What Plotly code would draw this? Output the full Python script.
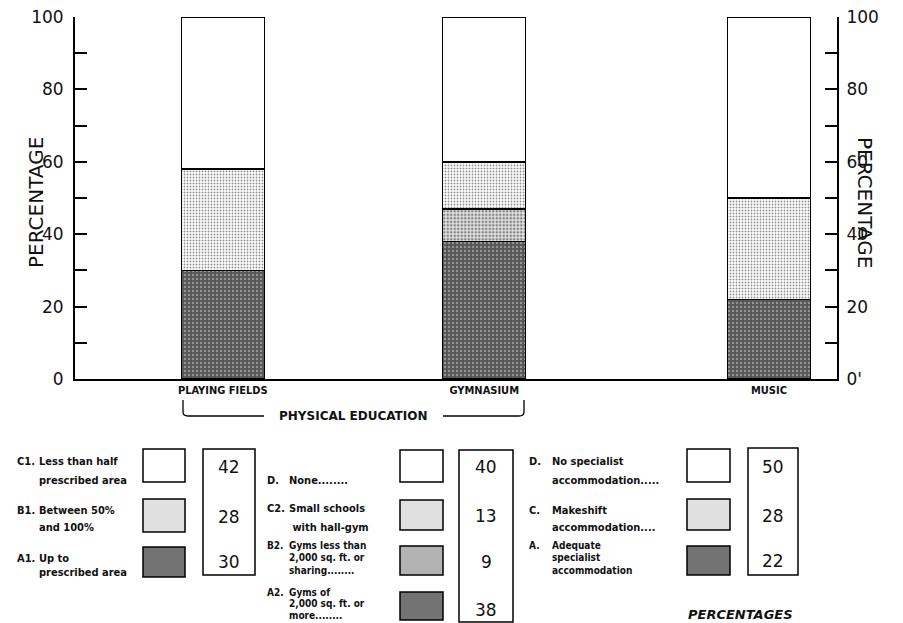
import plotly.graph_objects as go

# ---------------- data ----------------
categories = ["PLAYING FIELDS", "GYMNASIUM", "MUSIC"]
adequate = [30, 38, 22]          # A1 / A2 / A  (bottom, dark)
partial = [None, 9, None]        # B2 (gym only, medium)
makeshift = [28, 13, 28]         # B1 / C2 / C  (light stipple)
no_provision = [42, 40, 50]      # C1 / D / D   (white)

left_ticks = [0, 20, 40, 60, 80, 100]
left_ticktext = ["0", "20", "40", "60", "80", "100"]
right_ticktext = ["0'", "20", "40", "60", "80", "100"]
minor_ticks = [10, 30, 50, 70, 90]

group1_labels = [("C1.", ["Less than half", "prescribed area"]),
                 ("B1.", ["Between 50%", "and 100%"]),
                 ("A1.", ["Up to", "prescribed area"])]
group1_values = [42, 28, 30]
group2_labels = [("D.", ["None........"]),
                 ("C2.", ["Small schools", " with hall-gym"]),
                 ("B2.", ["Gyms less than", "2,000 sq. ft. or", "sharing........"]),
                 ("A2.", ["Gyms of", "2,000 sq. ft. or", "more........"])]
group2_values = [40, 13, 9, 38]
group3_labels = [("D.", ["No specialist", "accommodation....."]),
                 ("C.", ["Makeshift", "accommodation...."]),
                 ("A.", ["Adequate", "specialist", "accommodation"])]
group3_values = [50, 28, 22]

# ---------------- layout constants ----------------
W, H = 903, 623
L, R, T, B = 75, 837, 17, 379
bar_pos = [1.78, 4.93, 8.36]
x_range = [0, 9.18]
FONT = "DejaVu Sans Condensed, Liberation Sans Narrow, Liberation Sans, Arial"
WIDE = "DejaVu Sans, Liberation Sans, Arial"


def px(x):
    return (x - L) / (R - L)


def py(y):
    return (B - y) / (B - T)


line = dict(color="black", width=1.5)

fig = go.Figure()
fig.add_trace(go.Bar(x=bar_pos, y=adequate, width=1, name="A",
                     marker=dict(color="#6a6a6a", line=line,
                                 pattern=dict(shape=".", bgcolor="#555555", fgcolor="#cfcfcf",
                                              size=4, solidity=0.3))))
fig.add_trace(go.Bar(x=bar_pos, y=partial, width=1, name="B2",
                     marker=dict(color="#cccccc", line=line,
                                 pattern=dict(shape=".", bgcolor="#e4e4e4", fgcolor="#222222",
                                              size=3.5, solidity=0.45))))
fig.add_trace(go.Bar(x=bar_pos, y=makeshift, width=1, name="C",
                     marker=dict(color="#eeeeee", line=line,
                                 pattern=dict(shape=".", bgcolor="#ffffff", fgcolor="#222222",
                                              size=3, solidity=0.3))))
fig.add_trace(go.Bar(x=bar_pos, y=no_provision, width=1, name="D",
                     marker=dict(color="#ffffff", line=line)))
# empty trace so that the right-hand axis is drawn
fig.add_trace(go.Scatter(x=[], y=[], yaxis="y2", showlegend=False, hoverinfo="skip"))

axis_common = dict(range=[0, 100], tickvals=left_ticks,
                   showline=True, linecolor="black", linewidth=2,
                   ticks="inside", ticklen=12, tickwidth=2, tickcolor="black",
                   minor=dict(tickvals=minor_ticks, ticks="inside", ticklen=12,
                              tickwidth=2, tickcolor="black"),
                   showgrid=False, zeroline=False, automargin=False,
                   tickfont=dict(size=17, family=WIDE, color="#111111"))

fig.update_layout(
    width=W, height=H, barmode="stack", showlegend=False,
    plot_bgcolor="white", paper_bgcolor="white",
    margin=dict(l=L, r=W - R, t=T, b=H - B, pad=0, autoexpand=False),
    font=dict(family=FONT, color="#111111"),
    xaxis=dict(range=x_range, tickvals=bar_pos, ticktext=categories,
               showline=True, linecolor="black", linewidth=2, ticks="",
               showgrid=False, zeroline=False, automargin=False,
               tickfont=dict(size=11, family=FONT, weight="bold")),
    yaxis=dict(ticktext=left_ticktext, ticklabelstandoff=6, **axis_common),
    yaxis2=dict(ticktext=right_ticktext, overlaying="y", side="right",
                ticklabelstandoff=4, **axis_common),
)

ann = []
shapes = []


def text(x, y, s, size=11, xanchor="left", family=FONT, **kw):
    ann.append(dict(x=px(x), y=py(y), xref="paper", yref="paper", text=s,
                    showarrow=False, xanchor=xanchor, yanchor="middle",
                    font=dict(size=size, family=family, **kw)))


def rect(x0, y0, x1, y1, fill="rgba(0,0,0,0)", width=1.5):
    shapes.append(dict(type="rect", xref="paper", yref="paper",
                       x0=px(x0), x1=px(x1), y0=py(y0), y1=py(y1),
                       line=dict(color="black", width=width), fillcolor=fill))


# axis titles
ann.append(dict(x=px(22), y=py(203), xref="paper", yref="paper", text="PERCENTAGE",
                showarrow=False, textangle=-90, font=dict(size=20, family=WIDE)))
ann.append(dict(x=px(879), y=py(203), xref="paper", yref="paper", text="PERCENTAGE",
                showarrow=False, textangle=90, font=dict(size=20, family=WIDE)))

# bracket under physical education
p = lambda x, y: f"{px(x):.5f},{py(y):.5f}"
shapes.append(dict(type="path", xref="paper", yref="paper",
                   path=f"M {p(183,400)} L {p(183,412)} Q {p(183,416)} {p(188,416)} L {p(264,416)}",
                   line=dict(color="black", width=1.3)))
shapes.append(dict(type="path", xref="paper", yref="paper",
                   path=f"M {p(443,416)} L {p(519,416)} Q {p(524,416)} {p(524,412)} L {p(524,400)}",
                   line=dict(color="black", width=1.3)))
text(353, 416, "PHYSICAL EDUCATION", size=12, xanchor="center", family=WIDE, weight="bold")

swatch_fill = {"D": "#ffffff", "C": "#e0e0e0", "B2": "#b3b3b3", "A": "#737373"}

# group 1
g1_rows = [(462, 480), (510, 527), (558, 572)]
g1_sw = [(449, 482), (499, 532), (547, 577)]
g1_fill = ["D", "C", "A"]
for (pre, lines), ys, sw, f in zip(group1_labels, g1_rows, g1_sw, g1_fill):
    text(15, ys[0], pre, size=11, weight="bold")
    for ln, yy in zip(lines, ys):
        text(37, yy, ln, size=11, weight="bold")
    rect(143, sw[0], 185, sw[1], fill=swatch_fill[f])
rect(203, 449, 255, 575)
for v, yy in zip(group1_values, [467, 517, 562]):
    text(229, yy, str(v), size=17, xanchor="center", family=WIDE)

# group 2
g2_rows = [(480,), (508, 527), (545, 557, 570), (592, 603, 615)]
g2_sw = [(450, 482), (500, 530), (546, 575), (592, 620)]
g2_fill = ["D", "C", "B2", "A"]
for (pre, lines), ys, sw, f in zip(group2_labels, g2_rows, g2_sw, g2_fill):
    sz = 11 if len(lines) < 3 else 10
    text(265, ys[0], pre, size=sz, weight="bold")
    for ln, yy in zip(lines, ys):
        text(287, yy, ln, size=sz, weight="bold")
    rect(400, sw[0], 443, sw[1], fill=swatch_fill[f])
rect(459, 450, 513, 622)
for v, yy in zip(group2_values, [467, 516, 562, 610]):
    text(486, yy, str(v), size=17, xanchor="center", family=WIDE)

# group 3
g3_rows = [(462, 480), (510, 527), (545, 557, 570)]
g3_sw = [(449, 482), (499, 530), (546, 575)]
g3_fill = ["D", "C", "A"]
for (pre, lines), ys, sw, f in zip(group3_labels, g3_rows, g3_sw, g3_fill):
    sz = 11 if len(lines) < 3 else 10
    text(527, ys[0], pre, size=sz, weight="bold")
    for ln, yy in zip(lines, ys):
        text(550, yy, ln, size=sz, weight="bold")
    rect(687, sw[0], 730, sw[1], fill=swatch_fill[f])
rect(748, 448, 798, 575)
for v, yy in zip(group3_values, [467, 516, 561]):
    text(773, yy, str(v), size=17, xanchor="center", family=WIDE)

text(740, 614, "PERCENTAGES", size=13, xanchor="center", style="italic",
     family=WIDE, weight="bold")

fig.update_layout(annotations=ann, shapes=shapes)
fig.write_html("out.html", config={"displayModeBar": False},
               post_script="document.body.style.margin='0';document.body.style.overflow='hidden';")
